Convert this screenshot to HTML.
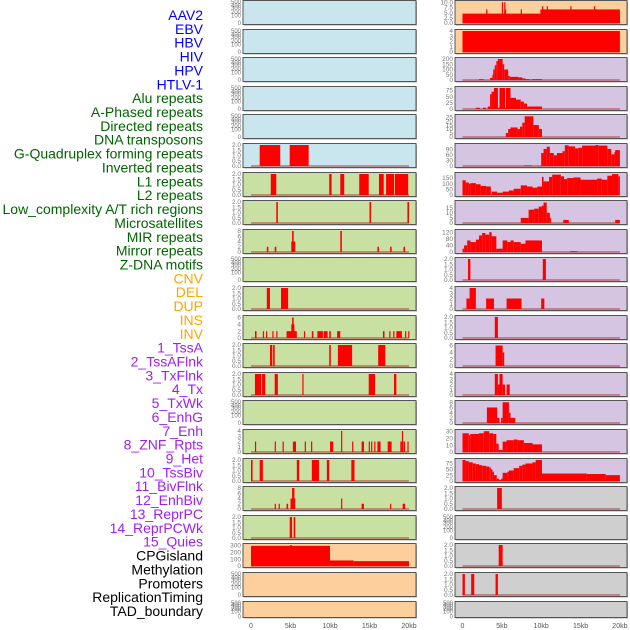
<!DOCTYPE html>
<html><head><meta charset="utf-8"><style>
body{margin:0;background:#fff;}
svg{display:block;font-family:"Liberation Sans",sans-serif;}
</style></head><body>
<svg id="chart" width="630" height="630" viewBox="0 0 630 630"></svg>
<script>
const trackLabels = ["AAV2","EBV","HBV","HIV","HPV","HTLV-1","Alu repeats","A-Phased repeats","Directed repeats","DNA transposons","G-Quadruplex forming repeats","Inverted repeats","L1 repeats","L2 repeats","Low_complexity A/T rich regions","Microsatellites","MIR repeats","Mirror repeats","Z-DNA motifs","CNV","DEL","DUP","INS","INV","1_TssA","2_TssAFlnk","3_TxFlnk","4_Tx","5_TxWk","6_EnhG","7_Enh","8_ZNF_Rpts","9_Het","10_TssBiv","11_BivFlnk","12_EnhBiv","13_ReprPC","14_ReprPCWk","15_Quies","CPGisland","Methylation","Promoters","ReplicationTiming","TAD_boundary"];
const labelGroups = [6,13,5,15,5];
const groupColors = ["#0000ff","#006400","#ffa500","#a020f0","#000000"];
const xTickLabels = ["0","5kb","10kb","15kb","20kb"];
const xTickValues = [0,5,10,15,20];
const ticks500 = ["500","400","300","200","100","0"];
const ticks2 = [0,0.5,1.0,1.5,2.0];
const ticks4 = [0,1,2,3,4];
const ticks8 = [0,2,4,6,8];

const segL5 = [[1.1,3.7,2],[4.9,7.3,2]];
const segL6 = [[2.5,3.2,2],[9.9,10.2,2],[11.3,11.8,2],[13.7,14.9,2],[16.2,16.8,2],[17.1,18.1,2],[18.2,19.9,2]];
const segL7 = [[3.2,3.4,2],[15.0,15.2,2],[19.8,20.0,2]];
const segL8 = [[2.0,2.2,2],[3.0,3.2,2],[5.1,5.6,4],[5.2,5.4,8],[11.3,11.5,8],[16.0,16.2,2],[17.6,17.8,2],[19.3,19.5,2]];
const segL10 = [[2.0,2.4,2],[3.8,4.7,2]];
const segL11 = [[0.5,0.7,2],[1.5,1.6,2],[1.9,2.0,2],[2.7,2.8,2],[3.2,3.3,2],[4.5,5.8,2],[5.1,5.5,4],[5.2,5.4,6],[6.7,6.8,2],[7.7,7.9,2],[8.4,9.1,2],[9.2,9.7,2],[9.9,10.1,2],[10.9,11.3,2],[16.7,16.9,2],[17.5,17.6,2],[18.0,18.1,2],[18.4,19.1,2],[19.5,19.6,2],[19.9,20.0,2]];
const segL12 = [[2.4,2.7,2],[2.8,3.0,2],[9.9,10.1,2],[11.0,12.8,2],[16.1,17.0,2]];
const segL13 = [[0.5,1.3,2],[1.4,1.8,2],[3.0,3.4,2],[6.5,6.6,2],[14.9,15.7,2],[18.1,18.4,2]];
const segL15 = [[0.5,0.6,2],[3.0,3.1,2],[4.0,4.1,2],[5.3,5.7,2],[6.8,6.9,2],[7.6,7.7,2],[10.0,10.4,2],[11.4,11.5,4],[12.8,12.9,2],[14.0,14.3,2],[14.9,15.0,2],[15.2,15.3,2],[15.6,15.7,2],[16.0,16.4,2],[17.3,17.8,2],[18.9,19.1,2],[19.1,19.2,4],[19.3,19.5,2],[19.8,19.9,2]];
const segL16 = [[0,0.2,2],[1.1,1.5,2],[5.8,6.1,2],[7.7,8.6,2],[9.6,9.9,2],[12.7,13.1,2]];
const segL17 = [[3.0,3.1,2],[3.5,3.6,2],[4.5,4.7,2],[5.0,5.6,4],[5.2,5.5,8],[11.4,11.5,4],[14.0,14.3,2],[17.6,17.7,2],[19.2,19.5,2]];
const segL18 = [[4.9,5.2,2],[5.4,5.6,2]];
const segL19 = [[0,10,290],[4.9,5.2,300],[10,13,80],[13,20,70]];

const segR0 = [[0,20,4.5],[9.9,20,6.5],[3.0,3.1,6.5],[5.0,5.1,10],[5.3,5.4,10],[5.4,5.5,6.5],[7.4,7.5,6.5],[10.1,10.2,8],[10.7,10.8,8],[13.7,13.8,8],[16.7,16.8,8]];
const segR1 = [[0,20,4]];
const segR2 = [[2.1,2.7,8],[3.5,3.8,20],[3.8,3.9,50],[3.9,4.1,100],[4.1,4.3,140],[4.3,4.5,180],[4.5,5.1,200],[5.1,5.3,150],[5.3,5.8,100],[5.8,6.0,40],[6.0,7.1,30],[7.1,7.6,25],[7.6,8.0,15],[8.0,8.6,8],[8.8,10.1,8]];
const segR3 = [[1.7,2.2,5],[2.6,3.0,5],[3.2,3.5,10],[3.5,3.7,60],[3.7,4.0,70],[4.0,4.5,85],[4.5,4.7,5],[4.7,5.4,85],[5.4,5.5,5],[5.5,6.1,85],[6.1,6.8,45],[6.8,7.4,38],[7.4,7.8,30],[7.8,8.2,22],[8.2,10.1,10]];
const segR4 = [[5.5,5.8,5],[5.8,6.1,10],[6.1,7.0,12],[7.0,7.3,10],[7.3,7.6,13],[7.6,7.9,18],[7.9,9.0,26],[9.0,9.7,15],[9.7,10.1,10]];
const segR5 = [[7.8,8.8,3],[10.0,10.3,70],[10.3,10.7,92],[10.7,11.1,104],[11.1,11.6,70],[11.6,12.0,58],[12.0,12.7,70],[12.7,13.0,80],[13.0,13.5,112],[13.5,14.3,106],[14.3,14.7,95],[14.7,15.2,98],[15.2,16.9,110],[16.9,17.3,113],[17.3,18.4,110],[18.4,18.9,92],[18.9,19.3,63],[19.3,19.4,75],[19.4,20,86]];
const segR6 = [[0,0.4,130],[0.4,0.8,110],[0.8,1.0,100],[1.0,1.7,105],[1.7,2.3,95],[2.3,3.0,80],[3.0,3.6,75],[3.7,4.4,30],[4.4,5.1,20],[5.1,5.9,30],[5.9,6.5,40],[6.5,7.4,55],[7.4,8.2,85],[8.2,8.9,75],[8.9,9.5,65],[9.5,10.1,75],[10.1,10.3,160],[10.3,11.0,120],[11.0,11.4,160],[11.4,12.5,180],[12.5,12.9,165],[12.9,13.3,140],[13.3,14.1,150],[14.1,15.0,155],[15.0,17.1,135],[17.1,17.7,145],[17.7,18.4,135],[18.4,19.0,170],[19.0,19.8,185],[19.8,20,165]];
const segR7 = [[7.4,8.4,5],[8.4,9.1,13],[9.1,9.7,14],[9.7,10.1,16],[10.1,10.3,17],[10.3,10.7,20],[10.7,11.1,10],[11.1,11.2,5],[12.8,13.5,3],[19.4,20.0,3]];
const segR8 = [[0,0.2,20],[0.2,0.6,40],[0.6,1.0,70],[1.0,1.7,60],[1.7,2.1,75],[2.1,2.5,100],[2.5,2.9,115],[2.9,3.4,105],[3.4,3.7,120],[3.7,4.3,95],[4.3,5.1,20],[5.1,5.7,70],[5.7,6.1,60],[6.1,6.5,70],[6.5,7.4,60],[7.4,8.0,50],[8.0,10.1,70],[13.7,14.6,5]];
const segR9 = [[0.7,1.0,2],[10.2,10.6,2]];
const segR10 = [[0.5,0.9,2],[0.9,1.7,4],[3.0,4.0,2],[5.6,7.5,2],[10.0,10.4,2]];
const segR11 = [[4.1,4.5,2]];
const segR12 = [[4.2,5.1,6],[5.1,5.3,4]];
const segR13 = [[4.1,4.5,4],[4.5,4.7,2],[4.7,5.1,4],[5.1,5.4,2],[5.6,6.0,2]];
const segR14 = [[3.1,4.4,6],[4.4,4.7,2],[4.9,5.1,2],[5.1,5.9,8],[5.9,6.1,4],[6.1,6.7,2]];
const segR15 = [[0,0.8,27],[0.8,1.0,24],[1.0,2.1,26],[2.1,2.7,27],[2.7,3.4,30],[3.4,3.9,27],[3.9,4.3,26],[4.3,4.6,12],[4.6,5.1,3],[5.1,5.6,15],[5.6,6.5,17],[6.5,7.0,18],[7.0,7.8,17],[7.8,8.9,13],[8.9,10.1,11]];
const segR16 = [[0,0.4,90],[0.4,0.8,85],[0.8,1.3,80],[1.3,1.7,75],[1.7,2.1,72],[2.1,2.5,68],[2.5,3.0,65],[3.0,3.4,62],[3.4,3.6,58],[3.6,3.8,50],[3.8,4.0,40],[4.0,4.35,25],[4.35,4.65,10],[4.65,4.9,5],[4.9,5.1,10],[5.1,5.7,35],[5.7,5.9,40],[5.9,6.5,45],[6.5,7.2,55],[7.2,7.6,65],[7.6,8.0,70],[8.0,8.9,75],[8.9,9.3,80],[9.3,10.1,90],[10.1,15.8,32],[15.8,18.2,30],[18.2,20,25]];
const segR17 = [[4.4,5.0,2]];
const segR19 = [[4.6,5.1,2]];
const segR20 = [[0,0.3,2],[1.1,1.5,2],[4.2,4.5,2]];

const BLUE="#c9e5ee",GREEN="#c8e1a2",ORANGE="#fdcf9d",PURPLE="#d5c5e2",GRAY="#cfcfcf";
const E = null;
const leftPanels = [
 [BLUE,E,0,null],[BLUE,E,0,null],[BLUE,E,0,null],[BLUE,E,0,null],[BLUE,E,0,null],
 [BLUE,ticks2,2.05,segL5],[GREEN,ticks2,2.05,segL6],[GREEN,ticks2,2.05,segL7],[GREEN,ticks8,8.2,segL8],
 [GREEN,E,0,null],[GREEN,ticks2,2.05,segL10],[GREEN,[0,2,4,6],6.3,segL11],[GREEN,ticks2,2.05,segL12],
 [GREEN,ticks2,2.05,segL13],[GREEN,E,0,null],[GREEN,ticks4,4.1,segL15],[GREEN,ticks2,2.05,segL16],
 [GREEN,ticks8,8.2,segL17],[GREEN,ticks2,2.05,segL18],[ORANGE,[0,100,200,300],310,segL19],
 [ORANGE,E,0,null],[ORANGE,E,0,null]];
const rightPanels = [
 [ORANGE,[0.0,2.5,5.0,7.5,10.0],10.3,segR0],[ORANGE,ticks4,4.1,segR1],[PURPLE,[0,50,100,150,200],205,segR2],
 [PURPLE,[0,25,50,75],87,segR3],[PURPLE,[0,5,10,15,20,25],27,segR4],[PURPLE,[0,30,60,90],116,segR5],
 [PURPLE,[0,50,100,150],190,segR6],[PURPLE,[0,5,10,15],21,segR7],[PURPLE,[0,40,80,120],130,segR8],
 [PURPLE,ticks2,2.05,segR9],[PURPLE,ticks4,4.1,segR10],[PURPLE,ticks2,2.05,segR11],[PURPLE,[0,2,4,6],6.3,segR12],
 [PURPLE,ticks4,4.1,segR13],[PURPLE,ticks8,8.3,segR14],[PURPLE,[0,10,20,30],31,segR15],[PURPLE,[0,25,50,75],92,segR16],
 [GRAY,ticks2,2.05,segR17],[GRAY,E,0,null],[GRAY,ticks2,2.05,segR19],[GRAY,ticks2,2.05,segR20],[GRAY,E,0,null]];

const NS="http://www.w3.org/2000/svg";
const svg=document.getElementById('chart');
function mk(tag,attrs,parent){const e=document.createElementNS(NS,tag);for(const k in attrs)e.setAttribute(k,attrs[k]);(parent||svg).appendChild(e);return e;}
const cols=[{x0:243,x1:416,z:251,s:7.9},{x0:455,x1:627,z:462.5,s:7.87}];
function xScale(c,kb){return cols[c].z+kb*cols[c].s;}
function fmt(v,list){const dec=list.some(t=>t%1!==0)||list[list.length-1]<=2||list[list.length-1]===10;return dec?v.toFixed(1):String(v);}

let idx=0;
labelGroups.forEach((n,g)=>{for(let i=0;i<n;i++){
  const t=mk('text',{x:203,y:20+idx*13.86,'text-anchor':'end','font-size':14,fill:groupColors[g]});
  t.textContent=trackLabels[idx];
  
  
  idx++;}});

[leftPanels,rightPanels].forEach((panels,c)=>{
  panels.forEach((p,i)=>{
    const top=Math.round(i*28.6)+0.5, h=(i===21?16:24);
    const g=mk('g',{});
    
    
    mk('rect',{x:cols[c].x0+1,y:top+1,width:cols[c].x1-cols[c].x0,height:h,fill:'#aaa'},g);
    mk('rect',{x:cols[c].x0,y:top,width:cols[c].x1-cols[c].x0,height:h,fill:p[0],stroke:'#555','stroke-width':1},g);
    const y0=top+h-1.5, yt=top+1;
    if(!p[1]){
      const fr=[0.05,0.18,0.3,0.45,0.6,0.92];
      ticks500.forEach((lab,k)=>{const t=mk('text',{x:cols[c].x0-2,y:top+fr[k]*h+2.5,'text-anchor':'end','font-size':6,fill:'#777'},g);t.textContent=lab;});
      return;
    }
    const vy=v=>y0-v/p[2]*(y0-yt);
    p[1].forEach(v=>{const t=mk('text',{x:cols[c].x0-2,y:vy(v)+2.2,'text-anchor':'end','font-size':6.5,fill:'#777'},g);t.textContent=fmt(v,p[1]);});
    mk('line',{x1:xScale(c,0),x2:xScale(c,20),y1:y0,y2:y0,stroke:'rgba(170,40,40,0.6)','stroke-width':1.5},g);
    p[3].forEach(s=>{
      const x1=xScale(c,s[0]),x2=xScale(c,s[1]);
      const r=mk('rect',{x:x1,y:vy(s[2]),width:Math.max(x2-x1,1.2),height:y0-vy(s[2]),fill:'#ff0000'},g);
      
      
    });
  });
  xTickValues.forEach((v,k)=>{
    const t=mk('text',{x:xScale(c,v),y:628,'text-anchor':'middle','font-size':7,fill:'#555'});
    t.textContent=xTickLabels[k];
    
    
  });
});
</script>
</body></html>
